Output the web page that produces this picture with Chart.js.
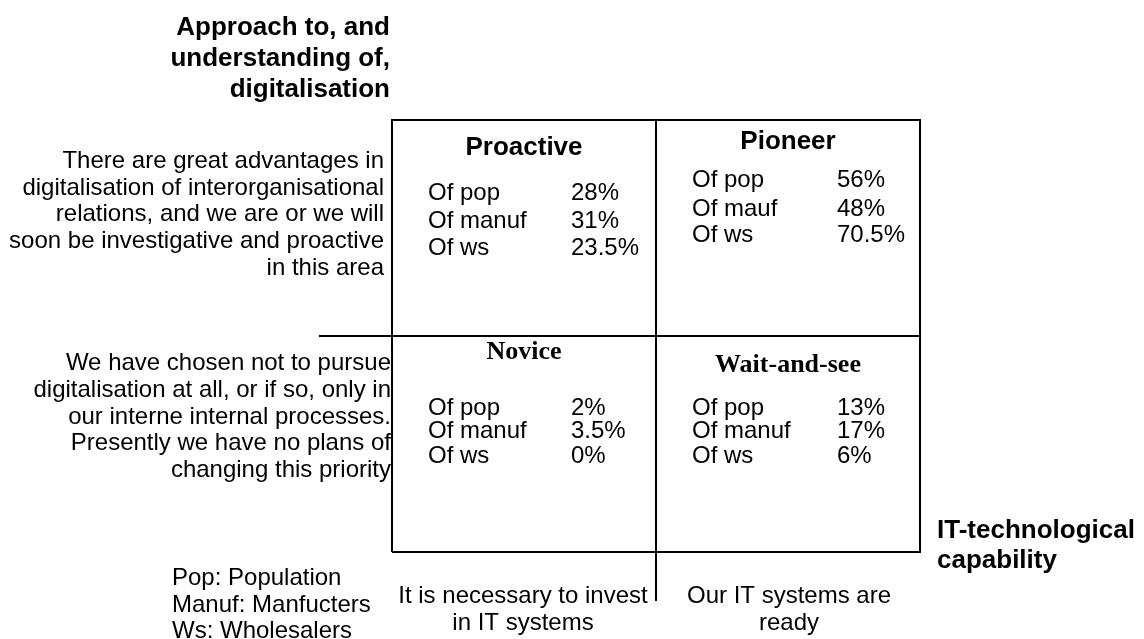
<!DOCTYPE html>
<html>
<head>
<meta charset="utf-8">
<script src="https://cdn.jsdelivr.net/npm/chart.js@4/dist/chart.umd.min.js"></script>
<style>
  html, body { margin: 0; padding: 0; background: #ffffff; }
  #wrap { width: 1144px; height: 639px; }
</style>
</head>
<body>
<div id="wrap"><canvas id="c" width="1144" height="639"></canvas></div>
<script>
// ---- data ----
const quadrantNames = ['Proactive', 'Pioneer', 'Novice', 'Wait-and-see'];
const quadrantCol = [0, 1, 0, 1];   // x category: 0 = invest needed, 1 = systems ready
const quadrantRow = [1, 1, 0, 0];   // y category: 1 = proactive approach, 0 = not pursuing
const popShare = [28, 56, 2, 13];
const manufShare = [31, 48, 3.5, 17];
const wsShare = [23.5, 70.5, 0, 6];
const rowLabels = [
  ['Of pop', 'Of manuf', 'Of ws'],
  ['Of pop', 'Of mauf', 'Of ws'],
  ['Of pop', 'Of manuf', 'Of ws'],
  ['Of pop', 'Of manuf', 'Of ws']
];
const xCategoryLabels = [
  ['It is necessary to invest', 'in IT systems'],
  ['Our IT systems are', 'ready']
];
const yCategoryLabels = [
  ['We have chosen not to pursue', 'digitalisation at all, or if so, only in', 'our interne internal processes.', 'Presently we have no plans of', 'changing this priority'],
  ['There are great advantages in', 'digitalisation of interorganisational', 'relations, and we are or we will', 'soon be investigative and proactive', 'in this area']
];
const yAxisTitle = ['Approach to, and', 'understanding of,', 'digitalisation'];
const xAxisTitle = ['IT-technological', 'capability'];
const legendNotes = ['Pop: Population', 'Manuf: Manfucters', 'Ws: Wholesalers'];

// ---- styles / layout (pixel offsets within a quadrant) ----
const SANS = '"Liberation Sans", Arial, Helvetica, sans-serif';
const SERIF = '"Liberation Serif", "Times New Roman", serif';
const quadStyle = [
  { font: 'bold 26px ' + SANS, titleDy: 35, rowsDy: [80, 108, 135], labelDx: 36, valueDx: 179 },
  { font: 'bold 26px ' + SANS, titleDy: 29, rowsDy: [67, 96, 122], labelDx: 36, valueDx: 181 },
  { font: 'bold 26px ' + SERIF, titleDy: 23, rowsDy: [79, 102, 127], labelDx: 36, valueDx: 179 },
  { font: 'bold 26px ' + SERIF, titleDy: 36, rowsDy: [79, 102, 127], labelDx: 36, valueDx: 181 }
];

const textPlugin = {
  id: 'quadText',
  beforeDraw(chart) {
    const ctx = chart.ctx;
    ctx.save();
    ctx.fillStyle = '#ffffff';
    ctx.fillRect(0, 0, chart.width, chart.height);
    ctx.restore();
  },
  afterDraw(chart) {
    const ctx = chart.ctx;
    const xs = chart.scales.x, ys = chart.scales.y;
    ctx.save();
    ctx.fillStyle = '#000000';
    ctx.textBaseline = 'alphabetic';

    // quadrant contents
    quadrantNames.forEach((name, i) => {
      const st = quadStyle[i];
      const left = xs.getPixelForValue(quadrantCol[i]);
      const right = xs.getPixelForValue(quadrantCol[i] + 1);
      const top = ys.getPixelForValue(quadrantRow[i] + 1);
      ctx.font = st.font;
      ctx.textAlign = 'center';
      ctx.fillText(name, (left + right) / 2, top + st.titleDy);
      ctx.font = '24px ' + SANS;
      ctx.textAlign = 'left';
      const vals = [popShare[i], manufShare[i], wsShare[i]];
      vals.forEach((v, r) => {
        ctx.fillText(rowLabels[i][r], left + st.labelDx, top + st.rowsDy[r]);
        ctx.fillText(v + '%', left + st.valueDx, top + st.rowsDy[r]);
      });
    });

    const boxLeft = xs.getPixelForValue(0);
    const boxRight = xs.getPixelForValue(2);
    const boxTop = ys.getPixelForValue(2);
    const boxBottom = ys.getPixelForValue(0);

    // y category descriptions (left)
    ctx.font = '24px ' + SANS;
    ctx.textAlign = 'right';
    yCategoryLabels[1].forEach((t, k) => ctx.fillText(t, boxLeft - 8, boxTop + 48 + k * 26.7));
    yCategoryLabels[0].forEach((t, k) => ctx.fillText(t, boxLeft - 1, ys.getPixelForValue(1) + 34 + k * 26.8));

    // x category descriptions (bottom)
    ctx.textAlign = 'center';
    xCategoryLabels.forEach((lines, c) => {
      const cx = (xs.getPixelForValue(c) + xs.getPixelForValue(c + 1)) / 2;
      const dx = c === 0 ? -1 : 1;
      lines.forEach((t, k) => ctx.fillText(t, cx + dx, boxBottom + 51 + k * 27));
    });

    // legend notes
    ctx.textAlign = 'left';
    legendNotes.forEach((t, k) => ctx.fillText(t, 172, boxBottom + 33 + k * 26.5));

    // axis titles
    ctx.font = 'bold 26px ' + SANS;
    ctx.textAlign = 'right';
    yAxisTitle.forEach((t, k) => ctx.fillText(t, boxLeft - 2, 35 + k * 31));
    ctx.textAlign = 'left';
    xAxisTitle.forEach((t, k) => ctx.fillText(t, boxRight + 17, boxBottom - 14 + k * 30));

    ctx.restore();
  }
};

const lineStyle = { type: 'line', showLine: true, pointRadius: 0, borderColor: '#000000', borderWidth: 2, fill: false, tension: 0, clip: false };

new Chart(document.getElementById('c'), {
  type: 'scatter',
  data: {
    datasets: [
      Object.assign({ data: [{x:0,y:0},{x:2,y:0},{x:2,y:2},{x:0,y:2},{x:0,y:0}] }, lineStyle),
      Object.assign({ data: [{x:1,y:-0.227},{x:1,y:2}] }, lineStyle),
      Object.assign({ data: [{x:-0.277,y:1},{x:2,y:1}] }, lineStyle)
    ]
  },
  options: {
    responsive: false,
    devicePixelRatio: 1,
    animation: false,
    layout: { padding: { left: 392, right: 224, top: 120, bottom: 87 } },
    plugins: { legend: { display: false }, tooltip: { enabled: false }, title: { display: false } },
    scales: {
      x: { type: 'linear', display: false, min: 0, max: 2 },
      y: { type: 'linear', display: false, min: 0, max: 2 }
    }
  },
  plugins: [textPlugin]
});
</script>
</body>
</html>
